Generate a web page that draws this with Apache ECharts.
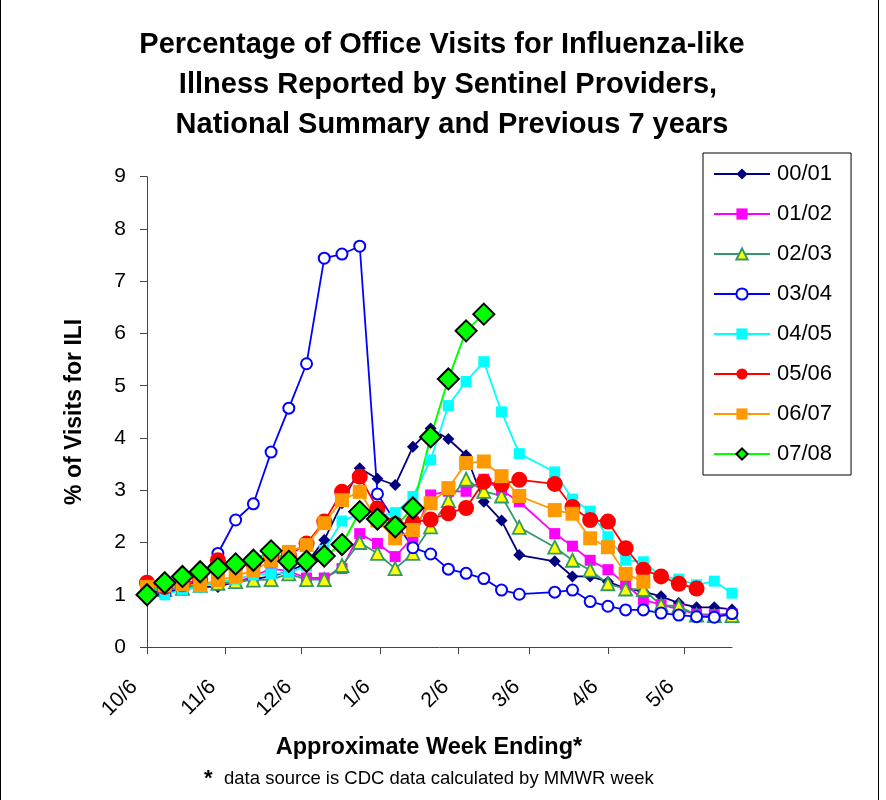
<!DOCTYPE html>
<html>
<head>
<meta charset="utf-8">
<script src="https://cdn.jsdelivr.net/npm/echarts@6/dist/echarts.min.js"></script>
<style>
html,body{margin:0;padding:0;background:#fff;}
#chart{width:886px;height:800px;}
</style>
</head>
<body>
<div id="chart"></div>
<script>
// Day offsets from 10/6 of each plotted week (one week has no data in the source)
var weekDays = [0,7,14,21,28,35,42,49,56,63,70,77,84,91,98,105,112,119,126,133,140,147,
                161,168,175,182,189,196,203,210,217,224,231];
// Tick positions (days after 10/6) and their labels
var tickDays = [0,31,61,92,123,151,182,212];
var tickLabels = ['10/6','11/6','12/6','1/6','2/6','3/6','4/6','5/6'];
var seasonNames = ['00/01','01/02','02/03','03/04','04/05','05/06','06/07','07/08'];

var s0001 = [0.95,1.05,1.1,1.15,1.15,1.25,1.3,1.35,1.45,1.6,2.05,2.75,3.42,3.22,3.1,3.83,4.18,3.98,3.67,2.78,2.42,1.76,
             1.64,1.35,1.35,1.25,1.12,1.06,0.97,0.84,0.76,0.76,0.72];
var s0102 = [1.15,1.1,1.15,1.2,1.2,1.24,1.35,1.5,1.45,1.32,1.32,1.5,2.17,1.98,1.73,2.1,2.91,2.98,2.98,3.21,3.0,2.78,
             2.17,1.93,1.66,1.48,1.2,0.9,0.81,0.72,0.63,0.62,0.64];
var s0203 = [1.1,1.1,1.12,1.18,1.22,1.25,1.28,1.29,1.4,1.29,1.29,1.56,2.0,1.79,1.5,1.79,2.3,2.8,3.21,2.98,2.89,2.29,
             1.91,1.66,1.47,1.21,1.11,1.1,0.8,0.78,0.61,0.6,0.6];
var s0304 = [1.1,1.02,1.12,1.3,1.79,2.43,2.74,3.73,4.57,5.42,7.44,7.52,7.67,2.93,2.4,1.9,1.78,1.49,1.41,1.31,1.09,1.01,
             1.05,1.09,0.87,0.78,0.71,0.71,0.65,0.61,0.58,0.57,0.64];
var s0405 = [1.05,1.0,1.1,1.15,1.25,1.3,1.38,1.4,1.42,1.55,1.85,2.41,2.55,2.5,2.57,2.88,3.58,4.62,5.08,5.46,4.5,3.7,
             3.35,2.83,2.6,2.11,1.66,1.63,1.35,1.3,1.19,1.26,1.03];
var s0506 = [1.23,1.15,1.2,1.3,1.66,1.55,1.6,1.7,1.75,1.98,2.4,2.97,3.26,2.65,2.35,2.39,2.44,2.56,2.66,3.16,3.11,3.2,
             3.12,2.68,2.43,2.4,1.89,1.48,1.35,1.21,1.12,null,null];
var s0607 = [1.15,1.18,1.2,1.19,1.28,1.35,1.47,1.65,1.82,1.95,2.37,2.81,2.97,2.42,2.08,2.24,2.75,3.04,3.52,3.55,3.27,2.89,
             2.62,2.55,2.08,1.91,1.4,1.25,null,null,null,null,null];
var s0708 = [1.0,1.23,1.35,1.44,1.51,1.59,1.66,1.84,1.64,1.64,1.74,1.96,2.59,2.45,2.3,2.66,4.02,5.13,6.05,6.37];

var titleLines = ['Percentage of Office Visits for Influenza-like',
                  'Illness Reported by Sentinel Providers,',
                  'National Summary and Previous 7 years'];

function pairs(vals){
  var out=[];
  for(var i=0;i<vals.length;i++){ if(vals[i]!=null) out.push([weekDays[i], vals[i]]); }
  return out;
}

var FONT = 'Arial, "Liberation Sans", sans-serif';
var chart = echarts.init(document.getElementById('chart'), null, {renderer:'canvas'});

function mk(name, vals, lineColor, symbol, size, itemStyle, lw){
  return {
    name: name, type:'line', data: pairs(vals), symbol: symbol, symbolSize: size,
    showAllSymbol: true, animation:false,
    lineStyle:{color: lineColor, width: lw || 1.8},
    itemStyle: itemStyle,
    emphasis:{disabled:true}
  };
}

var option = {
  backgroundColor:'#fff',
  animation:false,
  grid:{left:147, right:154, top:176.7, bottom:153, containLabel:false},
  legend:{
    orient:'vertical', left:703, top:153,
    data: seasonNames,
    itemWidth:56, itemHeight:14, itemGap:18,
    padding:[10,19,10,10],
    borderColor:'#000', borderWidth:1, backgroundColor:'#fff',
    textStyle:{fontFamily:FONT, fontSize:22, color:'#000', padding:[0,0,0,2]},
    selectedMode:false
  },
  xAxis:{
    type:'value', min:0, max:231,
    axisLine:{show:true, lineStyle:{color:'#444', width:1}},
    axisTick:{show:true, customValues: tickDays, length:7, lineStyle:{color:'#444'}},
    axisLabel:{
      customValues: tickDays, rotate:45, fontFamily:FONT, fontSize:21, color:'#000', margin:24,
      padding:[0,18,0,0],
      formatter:function(v){ var i = tickDays.indexOf(v); return i>=0 ? tickLabels[i] : ''; }
    },
    splitLine:{show:false}
  },
  yAxis:{
    type:'value', min:0, max:9, interval:1,
    name:'% of Visits for ILI', nameLocation:'middle', nameGap:61, nameRotate:90,
    nameTextStyle:{fontFamily:FONT, fontSize:23, fontWeight:'bold', color:'#000'},
    axisLine:{show:true, lineStyle:{color:'#444', width:1}},
    axisTick:{show:true, length:7, lineStyle:{color:'#444'}},
    axisLabel:{fontFamily:FONT, fontSize:21, color:'#000', margin:21},
    splitLine:{show:false}
  },
  graphic:[
    {type:'rect', shape:{x:0.5, y:-5, width:878, height:820}, style:{fill:'none', stroke:'#000', lineWidth:1}, silent:true},
    {type:'text', style:{text:titleLines[0], font:'bold 29px '+FONT, fill:'#000', textAlign:'center', textVerticalAlign:'middle'}, position:[442,45]},
    {type:'text', style:{text:titleLines[1], font:'bold 29px '+FONT, fill:'#000', textAlign:'center', textVerticalAlign:'middle'}, position:[448,85]},
    {type:'text', style:{text:titleLines[2], font:'bold 29px '+FONT, fill:'#000', textAlign:'center', textVerticalAlign:'middle'}, position:[452,125]},
    {type:'text', style:{text:'Approximate Week Ending*', font:'bold 23.5px '+FONT, fill:'#000', textAlign:'center', textVerticalAlign:'middle'}, position:[429,748]},
    {type:'text', style:{text:'*', font:'bold 22px '+FONT, fill:'#000', textAlign:'left', textVerticalAlign:'middle'}, position:[204,779]},
    {type:'text', style:{text:'data source is CDC data calculated by MMWR week', font:'18.5px '+FONT, fill:'#000', textAlign:'left', textVerticalAlign:'middle'}, position:[224,779]}
  ],
  series:[
    mk('00/01', s0001, '#000080', 'diamond', 12, {color:'#000080'}),
    mk('01/02', s0102, '#FF00FF', 'rect', 11, {color:'#FF00FF'}),
    mk('02/03', s0203, '#339966', 'triangle', 13, {color:'#FFFF00', borderColor:'#339966', borderWidth:1.8}),
    mk('03/04', s0304, '#0000FF', 'emptyCircle', 11, {color:'#0000FF', borderColor:'#0000FF', borderWidth:1.8}),
    mk('04/05', s0405, '#00FFFF', 'rect', 11, {color:'#00FFFF'}),
    mk('05/06', s0506, '#FF0000', 'circle', 16, {color:'#FF0000'}),
    mk('06/07', s0607, '#FF9900', 'rect', 14, {color:'#FF9900'}),
    mk('07/08', s0708, '#00FF00', 'diamond', 21, {color:'#00FF00', borderColor:'#000', borderWidth:2}, 2)
  ]
};
chart.setOption(option);
</script>
</body>
</html>
